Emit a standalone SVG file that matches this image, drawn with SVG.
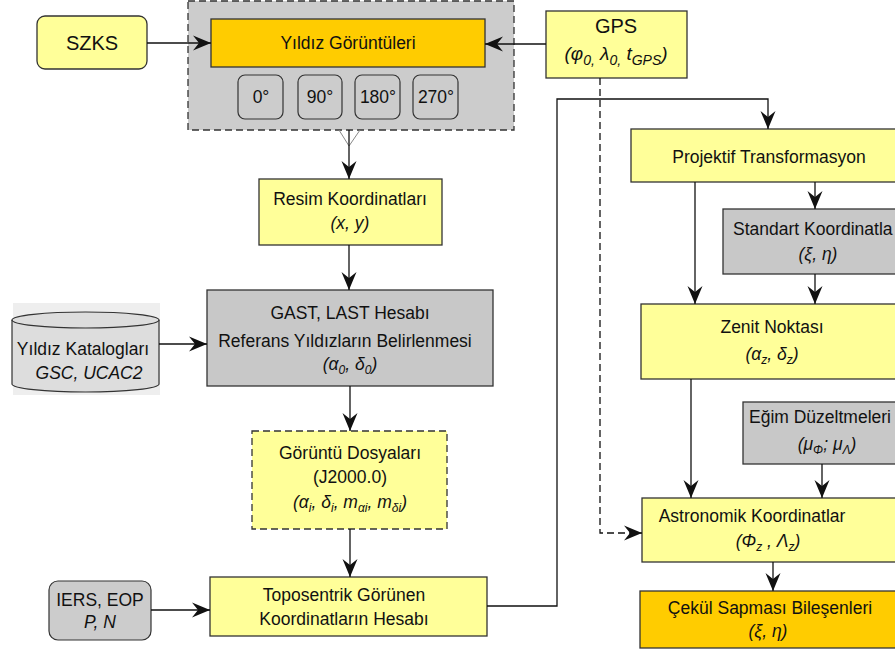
<svg xmlns="http://www.w3.org/2000/svg" width="895" height="654" viewBox="0 0 895 654">
<style>
text{font-family:"Liberation Sans",Arial,sans-serif;font-size:17.5px;fill:#111;text-anchor:middle}
.it{font-style:italic}
.sub{font-size:12px}
.yel{fill:#FFFF99;stroke:#333;stroke-width:1.3}
.org{fill:#FFCC00;stroke:#333;stroke-width:1.3}
.gry{fill:#C8C8C8;stroke:#333;stroke-width:1.3}
.con{fill:none;stroke:#111;stroke-width:1.3}
.dsh{stroke-dasharray:7,4}
</style>
<defs>
<marker id="ah" viewBox="-20 -10 22 20" markerWidth="22" markerHeight="20" refX="0" refY="0" orient="auto" markerUnits="userSpaceOnUse">
<path d="M0,0 L-18,-7.5 L-12,0 L-18,7.5 Z" fill="#111"/>
</marker>
</defs>
<g id="container">
<rect x="188" y="1" width="326" height="129" fill="#CCCCCC" stroke="#333" stroke-width="1.3" stroke-dasharray="7,4"/>
</g>
<g id="yildiz-goruntuleri">
<rect class="org" x="211" y="19" width="274" height="48"/>
<text x="348" y="49">Yıldız Görüntüleri</text>
</g>
<g id="a0"><rect x="238" y="75" width="45" height="44" rx="7" fill="#CCCCCC" stroke="#333" stroke-width="1.2"/><text x="261" y="103" font-size="17">0°</text></g>
<g id="a90"><rect x="298" y="75" width="44" height="44" rx="7" fill="#CCCCCC" stroke="#333" stroke-width="1.2"/><text x="320" y="103">90°</text></g>
<g id="a180"><rect x="355" y="75" width="45" height="44" rx="7" fill="#CCCCCC" stroke="#333" stroke-width="1.2"/><text x="378" y="103">180°</text></g>
<g id="a270"><rect x="413" y="75" width="45" height="44" rx="7" fill="#CCCCCC" stroke="#333" stroke-width="1.2"/><text x="436" y="103">270°</text></g>
<g id="szks">
<rect class="yel" x="37" y="16" width="110" height="53" rx="8"/>
<text x="92" y="50" style="font-size:20px">SZKS</text>
</g>
<g id="gps">
<rect class="yel" x="546" y="11" width="141" height="67"/>
<text x="616" y="33" style="font-size:20px">GPS</text>
<text x="616" y="60" class="it" style="font-size:19px">(φ<tspan class="sub" style="font-size:14px" dy="5">0,</tspan><tspan dy="-5"> λ</tspan><tspan style="font-size:14px" dy="5">0,</tspan><tspan dy="-5"> t</tspan><tspan style="font-size:14px" dy="5">GPS</tspan><tspan dy="-5">)</tspan></text>
</g>
<g id="resim">
<rect class="yel" x="259" y="179" width="183" height="66"/>
<text x="350" y="205">Resim Koordinatları</text>
<text x="350" y="229" class="it">(x, y)</text>
</g>
<g id="gast">
<rect class="gry" x="207" y="290" width="286" height="96"/>
<text x="350" y="319">GAST, LAST Hesabı</text>
<text x="345" y="347">Referans Yıldızların Belirlenmesi</text>
<text x="350" y="370" class="it">(α<tspan class="sub" dy="4">0</tspan><tspan dy="-4">, δ</tspan><tspan class="sub" dy="4">0</tspan><tspan dy="-4">)</tspan></text>
</g>
<g id="katalog">
<rect x="13" y="303" width="147" height="92" fill="#EEEEEE"/>
<path d="M12,320 L12,384 A73.5,8 0 0 0 159,384 L159,320 A73.5,8 0 0 0 12,320 Z" fill="#DDDDDD" stroke="#333" stroke-width="1.2"/>
<path d="M12,320 A73.5,8 0 0 0 159,320" fill="none" stroke="#333" stroke-width="1.2"/>
<text x="83" y="355">Yıldız Katalogları</text>
<text x="89" y="379" class="it">GSC, UCAC2</text>
</g>
<g id="goruntu-dosyalari">
<rect class="yel dsh" x="252" y="431" width="195" height="98"/>
<text x="350" y="459">Görüntü Dosyaları</text>
<text x="350" y="483">(J2000.0)</text>
<text x="350" y="508" class="it">(α<tspan class="sub" dy="4">i</tspan><tspan dy="-4">, δ</tspan><tspan class="sub" dy="4">i</tspan><tspan dy="-4">, m</tspan><tspan class="sub" dy="4">αi</tspan><tspan dy="-4">, m</tspan><tspan class="sub" dy="4">δi</tspan><tspan dy="-4">)</tspan></text>
</g>
<g id="iers">
<rect x="49" y="581" width="102" height="59" rx="9" fill="#CCCCCC" stroke="#333" stroke-width="1.2"/>
<text x="100" y="606">IERS, EOP</text>
<text x="100" y="628" class="it">P, N</text>
</g>
<g id="toposentrik">
<rect class="yel" x="210" y="577" width="277" height="59"/>
<text x="344" y="601">Toposentrik Görünen</text>
<text x="344" y="625">Koordinatların Hesabı</text>
</g>
<g id="projektif">
<rect class="yel" x="631" y="129" width="276" height="53"/>
<text x="769" y="163">Projektif Transformasyon</text>
</g>
<g id="standart">
<rect class="gry" x="723" y="209" width="190" height="65"/>
<text x="733" y="235" style="text-anchor:start">Standart Koordinatla</text>
<text x="818" y="260" class="it">(ξ, η)</text>
</g>
<g id="zenit">
<rect class="yel" x="641" y="304" width="262" height="75"/>
<text x="772" y="333">Zenit Noktası</text>
<text x="772" y="360" class="it">(α<tspan class="sub" dy="4">z</tspan><tspan dy="-4">, δ</tspan><tspan class="sub" dy="4">z</tspan><tspan dy="-4">)</tspan></text>
</g>
<g id="egim">
<rect class="gry" x="743" y="402" width="170" height="62"/>
<text x="820" y="423">Eğim Düzeltmeleri</text>
<text x="827" y="450" class="it">(μ<tspan class="sub" dy="4">Φ</tspan><tspan dy="-4">; μ</tspan><tspan class="sub" dy="4">Λ</tspan><tspan dy="-4">)</tspan></text>
</g>
<g id="astronomik">
<rect class="yel" x="642" y="498" width="268" height="64"/>
<text x="752" y="522">Astronomik Koordinatlar</text>
<text x="768" y="547" class="it">(Φ<tspan class="sub" dy="4">z</tspan><tspan dy="-4"> , Λ</tspan><tspan class="sub" dy="4">z</tspan><tspan dy="-4">)</tspan></text>
</g>
<g id="cekul">
<rect class="org" x="640" y="591" width="270" height="57"/>
<text x="770" y="614">Çekül Sapması Bileşenleri</text>
<text x="768" y="637" class="it">(ξ, η)</text>
</g>
<g id="connectors">
<path class="con" d="M147,43 H211" stroke="#555" marker-end="url(#ah)"/>
<path class="con" d="M546,44 H485" marker-end="url(#ah)"/>
<path d="M339,130 L349,146 L360,130" fill="none" stroke="#888" stroke-width="1"/>
<path class="con" d="M349,130 V179" marker-end="url(#ah)"/>
<path class="con" d="M349,245 V290" marker-end="url(#ah)"/>
<path class="con" d="M159,344 H207" marker-end="url(#ah)"/>
<path class="con" d="M350,386 V431" marker-end="url(#ah)"/>
<path class="con" d="M350,529 V577" marker-end="url(#ah)"/>
<path class="con" d="M151,610 H210" marker-end="url(#ah)"/>
<path class="con" d="M487,606 H557 V99 H768 V129" stroke="#444" marker-end="url(#ah)"/>
<path class="con dsh" d="M600,78 V533 H642" marker-end="url(#ah)"/>
<path class="con" d="M695,182 V304" marker-end="url(#ah)"/>
<path class="con" d="M815,182 V209" marker-end="url(#ah)"/>
<path class="con" d="M815,274 V304" marker-end="url(#ah)"/>
<path class="con" d="M691,379 V498" marker-end="url(#ah)"/>
<path class="con" d="M822,464 V498" marker-end="url(#ah)"/>
<path class="con" d="M773,562 V591" marker-end="url(#ah)"/>
</g>
</svg>
